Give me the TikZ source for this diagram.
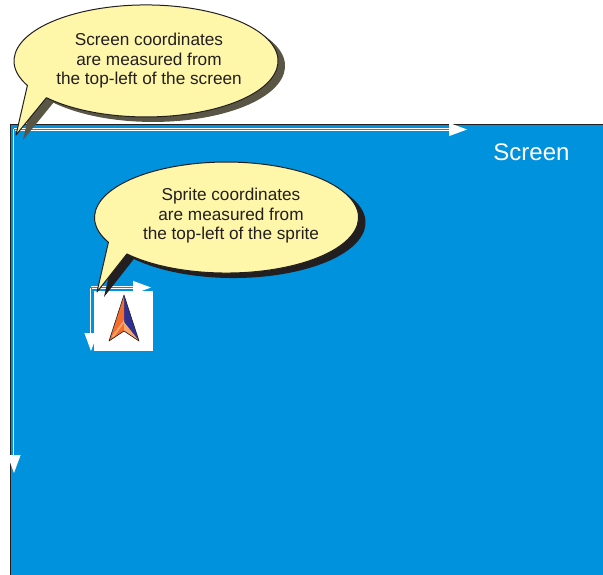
\documentclass[tikz,border=0pt]{standalone}
\usepackage{fontspec}
\setmainfont{Liberation Sans}
\usetikzlibrary{arrows.meta}
\definecolor{screenBlue}{RGB}{0, 146, 221}
\definecolor{bubbleFill}{RGB}{254, 246, 168}
\definecolor{bubbleLine}{RGB}{35, 31, 32}
\definecolor{shadowOlive}{RGB}{90, 86, 70}
\definecolor{navOrange}{RGB}{243, 108, 45}
\definecolor{navPale}{RGB}{249, 166, 107}
\definecolor{navBlue}{RGB}{46, 49, 146}
\tikzset{
  axisline/.style={draw=white, line width=0.8pt, double=screenBlue, double distance=1pt,
    -{Triangle[length=18pt, width=13pt]}},
  bubbleedge/.style={fill=bubbleFill, draw=bubbleLine, line width=1pt, line join=round},
  bubbletext/.style={align=center, font=\fontsize{17.2}{19.5}\selectfont, text=bubbleLine, inner sep=0pt}
}
\begin{document}
\begin{tikzpicture}[x=1pt, y=-1pt]
  \useasboundingbox (0,0) rectangle (603,575);
  % screen
  \fill[screenBlue] (10,124) rectangle (603,575);
  \draw[bubbleLine, line width=0.9pt] (10,575) -- (10,124.5) -- (603,124.5);
  \node[text=white, font=\fontsize{24}{26}\selectfont, inner sep=0pt] (screenlabel) at (531.5,152.5) {Screen};
  % screen axes
  \coordinate (so) at (14,129.5);
  \coordinate (sx) at (467,129.5);
  \coordinate (sy) at (14,473);
  \draw[axisline] (so) -- (sx);
  \draw[axisline] (so) -- (sy);
  % screen callout
  \fill[shadowOlive, shift={(7,5)}] (27.4,85.5) arc[start angle=154, end angle=499, x radius=132, y radius=56] -- (16,135) -- cycle;
  \draw[bubbleedge] (27.4,85.5) arc[start angle=154, end angle=499, x radius=132, y radius=56] -- (16,135) -- cycle;
  \node[bubbletext] (screentext) at (149,61) {Screen coordinates\\are measured from\\the top-left of the screen};
  % sprite
  \fill[white] (94,291) rectangle (153,351);
  \coordinate (po) at (91,287.5);
  \coordinate (px) at (151,287.5);
  \coordinate (py) at (91,351);
  \draw[axisline] (po) -- (px);
  \draw[axisline] (po) -- (py);
  \fill[navBlue] (124,295) -- (139,341) -- (124,331) -- cycle;
  \fill[navOrange] (124,295) -- (109,341) -- (124,331) -- cycle;
  \fill[navPale] (124,322) -- (139,341) -- (124,331) -- cycle;
  \fill[navPale] (124,320) -- (112,336) -- (113,338) -- (124,323) -- cycle;
  \draw[bubbleLine, line width=0.6pt, line join=round] (124,295) -- (139,341) -- (124,331) -- (109,341) -- cycle;
  % sprite callout
  \fill[bubbleLine, shift={(7,5)}] (108.4,242.3) arc[start angle=153.5, end angle=499, x radius=132, y radius=55.5] -- (97,292) -- cycle;
  \draw[bubbleedge] (108.4,242.3) arc[start angle=153.5, end angle=499, x radius=132, y radius=55.5] -- (97,292) -- cycle;
  \node[bubbletext] (spritetext) at (231,216) {Sprite coordinates\\are measured from\\the top-left of the sprite};
\end{tikzpicture}
\end{document}
